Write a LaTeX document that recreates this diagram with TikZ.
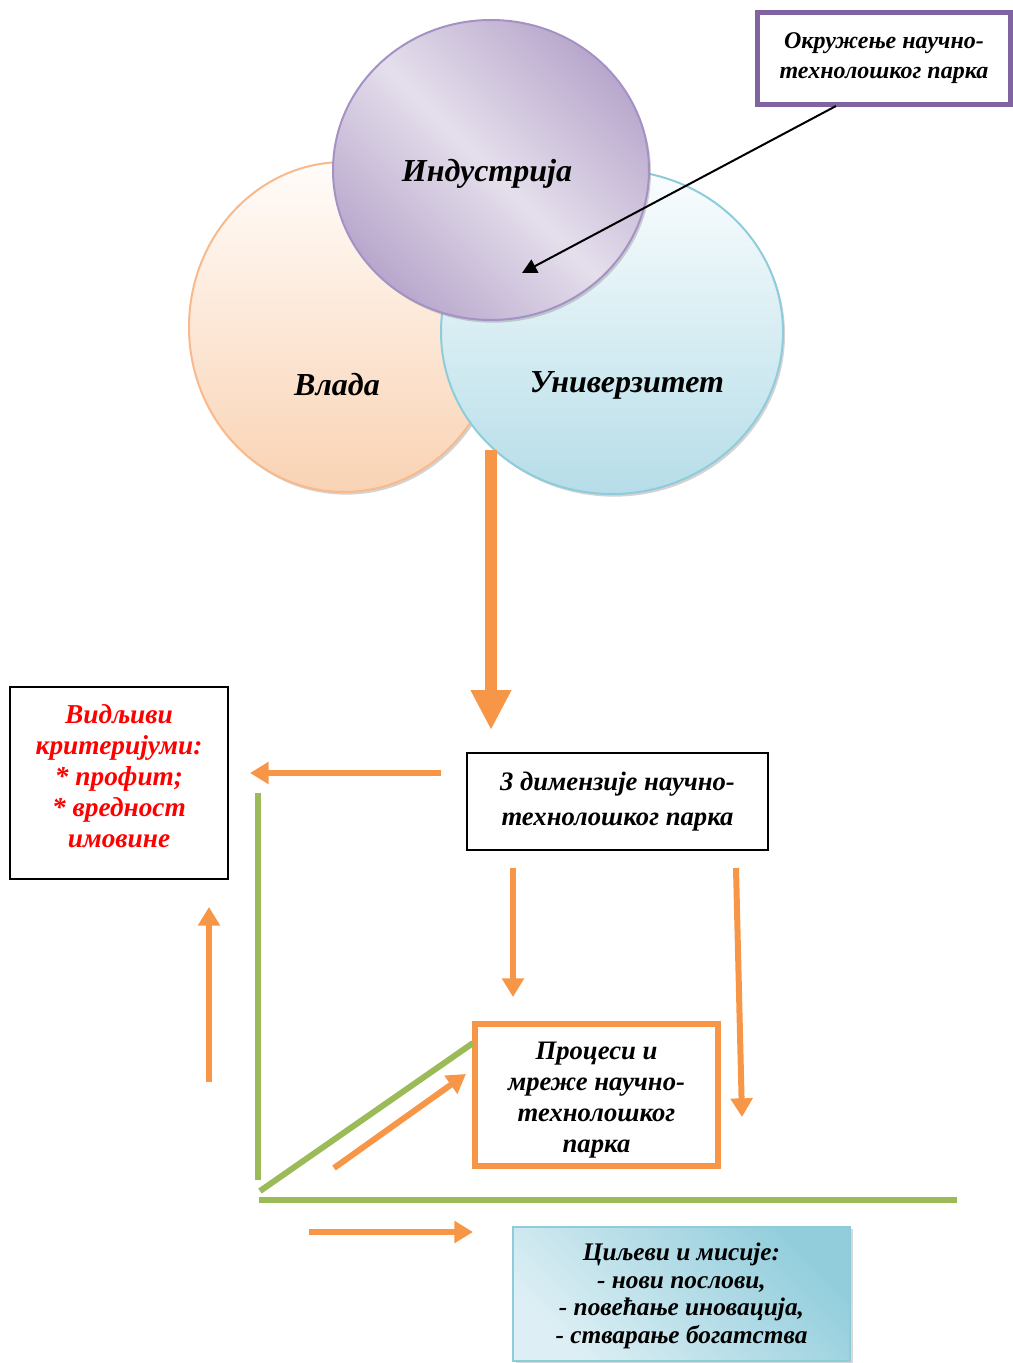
\documentclass[tikz,border=0pt]{standalone}
\usepackage{fontspec}
\setmainfont[Language=Serbian]{Liberation Serif}
\usetikzlibrary{arrows.meta,shapes.geometric,shadows}
\definecolor{orng}{HTML}{F79646}
\definecolor{grn}{HTML}{9BBB59}
\definecolor{purp}{HTML}{8064A2}
\definecolor{peachlt}{HTML}{FFFCFA}
\definecolor{peach}{HTML}{F9D3B4}
\definecolor{peachln}{HTML}{F8B98C}
\definecolor{bluelt}{HTML}{FAFDFE}
\definecolor{blue}{HTML}{B6DDE8}
\definecolor{blueln}{HTML}{8FCCDB}
\definecolor{lilaclt}{HTML}{E5DFEC}
\definecolor{lilac}{HTML}{B8A7CC}
\definecolor{lilacln}{HTML}{A592C4}
\definecolor{aqualt}{HTML}{DDEFF4}
\definecolor{aqua}{HTML}{92CDDC}
\newcommand{\px}[2]{\fontsize{#1}{#2}\selectfont\bfseries\itshape}
\tikzset{
  circ/.style={ellipse, inner sep=0pt, line width=1.5pt,
    drop shadow={shadow xshift=1.5pt, shadow yshift=-2pt, opacity=0.35}},
  lbl/.style={inner sep=0pt, font=\px{24pt}{28pt}},
  boxtxt/.style={rectangle, inner sep=0pt, align=center},
  oarrow/.style={orng, line width=4.5pt,
    -{Triangle[width=16pt,length=14pt]}},
  gline/.style={grn, line width=4.5pt},
}
\begin{document}
\begin{tikzpicture}[x=0.75pt,y=-0.75pt]
\useasboundingbox (0,0) rectangle (1013,1363);

% the three overlapping spheres
\node[circ, draw=peachln, top color=peachlt, bottom color=peach,
      minimum width=232.5pt, minimum height=247.5pt] (vlada) at (344,327) {};
\node[circ, draw=blueln, top color=bluelt, bottom color=blue,
      minimum width=256.5pt, minimum height=243pt] (univ) at (612,332) {};
\node[circ, draw=lilacln, top color=lilac, bottom color=lilac, middle color=lilaclt,
      shading angle=-45,
      minimum width=237pt, minimum height=225pt] (ind) at (491,170) {};

\node[lbl] (lind) at (487,174) {Индустрија};
\node[lbl] (lvl) at (337,385) {Влада};
\node[lbl] (lun) at (627,385) {Универзитет};

% environment box and its pointer
\node[boxtxt, draw=purp, line width=3.75pt, fill=white,
      minimum width=189.75pt, minimum height=68.25pt,
      font=\px{18pt}{22.5pt}] (okr) at (884,58.5)
      {Окружење научно-\\технолошког парка};
\coordinate (okrp) at (836,106);
\coordinate (indp) at (522,273);
\draw[line width=1.5pt, -{Triangle[width=11pt,length=11pt]}] (okrp) -- (indp);

% main flow
\coordinate (bigs) at (491,450);
\coordinate (bige) at (491,730);
\draw[orng, line width=9pt, -{Triangle[width=28.5pt,length=30pt]}] (bigs) -- (bige);

\node[boxtxt, draw, line width=1.1pt, minimum width=225.75pt, minimum height=72.75pt,
      font=\px{20pt}{26pt}] (dim) at (617.5,801.5)
      {3 димензије научно-\\технолошког парка};

\node[boxtxt, draw, line width=1.1pt, minimum width=163.5pt, minimum height=144pt]
      (vid) at (119,783) {};
\node[boxtxt, text=red, font=\px{20.5pt}{23.25pt}] (vidt) at (119,776)
      {Видљиви\\критеријуми:\\* профит;\\* вредност\\имовине};

\node[boxtxt, draw=orng, line width=4.5pt, minimum width=182.25pt, minimum height=106.5pt]
      (proc) at (596.5,1095) {};
\node[boxtxt, font=\px{20pt}{23.25pt}] (proct) at (596.5,1100)
      {Процеси и\\мреже научно-\\технолошког\\парка};

\node[boxtxt, draw=blueln, line width=0.8pt,
      top color=aqua, bottom color=aqualt, shading angle=-45,
      drop shadow={shadow xshift=2pt, shadow yshift=-1.5pt, opacity=0.3},
      minimum width=252.75pt, minimum height=100.5pt]
      (cilj) at (681.5,1294) {};
\node[boxtxt, font=\px{19pt}{20.6pt}] (ciljt) at (681.5,1296)
      {Циљеви и мисије:\\- нови послови,\\- повећање иновација,\\- стварање богатства};

% orange arrows
\coordinate (a1s) at (441,773); \coordinate (a1e) at (250,773);
\coordinate (a2s) at (209,1082); \coordinate (a2e) at (209,907);
\coordinate (a3s) at (513,868); \coordinate (a3e) at (513,997);
\coordinate (a4s) at (736,868); \coordinate (a4e) at (742,1117);
\coordinate (a5s) at (334,1168); \coordinate (a5e) at (466,1074);
\coordinate (a6s) at (309,1232); \coordinate (a6e) at (473,1232);
\draw[oarrow] (a1s) -- (a1e);
\draw[oarrow] (a2s) -- (a2e);
\draw[oarrow] (a3s) -- (a3e);
\draw[oarrow] (a4s) -- (a4e);
\draw[oarrow] (a5s) -- (a5e);
\draw[oarrow] (a6s) -- (a6e);

% green axes
\coordinate (g1) at (258,793); \coordinate (g2) at (258,1180);
\coordinate (g3) at (260,1191); \coordinate (g4) at (473,1043);
\coordinate (g5) at (259,1200); \coordinate (g6) at (957,1200);
\draw[gline] (g1) -- (g2);
\draw[gline] (g3) -- (g4);
\draw[gline] (g5) -- (g6);
\end{tikzpicture}
\end{document}
